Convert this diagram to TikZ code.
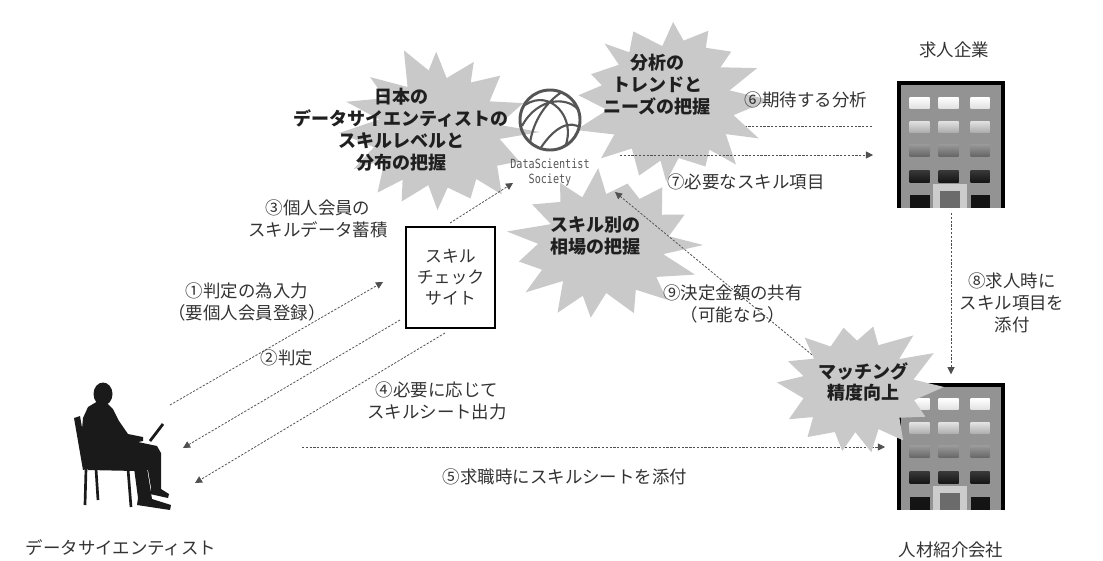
\documentclass[tikz,border=0pt]{standalone}
\usepackage{fontspec}
\usepackage{graphicx}
\setmainfont{Noto Sans CJK JP}
\newfontfamily\logofont{DejaVu Sans Mono}
\usetikzlibrary{arrows.meta}

\definecolor{burstgray}{HTML}{C9C9C9}
\definecolor{ink}{HTML}{333333}
\definecolor{linegray}{HTML}{505050}
\definecolor{logogray}{HTML}{555555}
\definecolor{bldbody}{HTML}{939393}
\definecolor{silhouette}{HTML}{1A1A1A}

% jagged explosion: centre x, centre y, x radius, y radius, spikes, seed
\newcommand\jaggedburst[6]{%
  \pgfmathsetseed{#6}%
  \pgfmathtruncatemacro\burstlast{2*#5-1}%
  \fill[burstgray] ({#1+#3},#2)
    \foreach \k [evaluate=\k as \rr using {mod(\k,2)==0 ? 0.9+0.1*rand : 0.64+0.06*rand},
                 evaluate=\k as \aa using {\k*180/#5+4*rand}] in {1,...,\burstlast}
    { -- ({#1+#3*\rr*cos(\aa)},{#2+#4*\rr*sin(\aa)}) } -- cycle;%
}

\tikzset{
  flow/.style={draw=linegray, line width=0.55pt, dash pattern=on 1.6pt off 1.1pt,
    -{Triangle[length=5pt,width=5pt]}},
  plainflow/.style={draw=linegray, line width=0.55pt, dash pattern=on 1.6pt off 1.1pt},
  lbl/.style={text=ink, align=center, inner sep=0pt,
    font=\fontsize{12.4}{15.6}\selectfont},
  bursttext/.style={text=black!88, align=center, inner sep=0pt,
    font=\bfseries\fontsize{12.8}{15.6}\selectfont},
  bldgbox/.style={minimum width=2.7cm, minimum height=3.175cm, inner sep=0pt},
  % office building: origin at the top-left corner, units in px
  building/.pic={
    \fill[bldbody] (0,0) rectangle (108,127);
    \foreach \a/\b in {13/33,42/62,74/93}{
      \shade[top color=white, bottom color=black!12] (\a,16) rectangle (\b,27);
      \shade[top color=black!12, bottom color=black!32] (\a,40) rectangle (\b,51);
      \shade[top color=black!40, bottom color=black!60] (\a,63) rectangle (\b,75);
      \shade[top color=black!78, bottom color=black!92] (\a,89) rectangle (\b,101);
    }
    \fill[black!92] (13,114) rectangle (33,127);
    \fill[black!92] (74,114) rectangle (93,127);
    \fill[black!20] (36,103) rectangle (70,127);
    \fill[black!58] (43,110) rectangle (63,127);
    \draw[black, line width=2.6pt] (2,127) -- (2,2) -- (106,2) -- (106,127);
  }
}

\begin{document}
\begin{tikzpicture}[x=0.025cm, y=-0.025cm]
  \fill[white] (0,0) rectangle (1103,560);
  \useasboundingbox (0,0) rectangle (1103,560);

  % ---------- buildings ----------
  \node[bldgbox] (corp) at (951,145) {};
  \pic at (corp.north west) {building};
  \node[bldgbox] (agency) at (951,446.5) {};
  \pic at (agency.north west) {building};

  % ---------- data scientist silhouette ----------
  \node[minimum width=2.45cm, minimum height=3.2cm, inner sep=0pt] (person) at (123,446) {};
  \fill[silhouette] (103,394) ellipse [x radius=9.5, y radius=11.5];
  \fill[silhouette] (98,401) -- (88,407) -- (83,418) -- (81,440) -- (83,462) -- (88,470)
    -- (136,471) -- (148,470) -- (151,488) -- (150,494) -- (168,498) -- (169,494)
    -- (161,489) -- (161,453) -- (157,446) -- (138,442) -- (143,441) -- (143,437)
    -- (128,434) -- (119,421) -- (113,409) -- (107,403) -- cycle;
  \fill[silhouette] (134,468) -- (138,498) -- (137,505) -- (170,510) -- (171,505)
    -- (152,499) -- (147,468) -- cycle;
  \fill[silhouette] (74,418) -- (80,416) -- (89,468) -- (83,470) -- cycle;
  \draw[silhouette, line width=1.9pt] (86,469) -- (85,505) (96,469) -- (98,500)
    (128,469) -- (131,507);
  \draw[silhouette, line width=2pt] (150,441) -- (163,424);

  % ---------- skill check site ----------
  \node[draw=black, line width=1.4pt, minimum width=2.225cm, minimum height=2.525cm,
    align=center, text=ink, font=\fontsize{12}{15}\selectfont] (check) at (450.5,277.5)
    {スキル\\チェック\\サイト};

  % ---------- flow endpoints ----------
  \coordinate (p1) at (170,405);  \coordinate (c1) at (383,282);
  \coordinate (c2) at (400,320);  \coordinate (p2) at (183,448);
  \coordinate (c4) at (445,333);  \coordinate (p4) at (195,483);
  \coordinate (c3) at (450,223);  \coordinate (d3) at (513,183);
  \coordinate (p5) at (302,447);  \coordinate (a5) at (885,447);
  \coordinate (d7) at (620,155);  \coordinate (k7) at (873,155);
  \coordinate (k6) at (872,126);  \coordinate (d6) at (660,126);
  \coordinate (a9) at (897,425);  \coordinate (d9) at (615,192);

  % expected analysis runs in behind the trend burst
  \draw[plainflow] (k6) -- (d6);

  % ---------- bursts behind the flows ----------
  \jaggedburst{438}{132}{102}{90}{16}{23}
  \jaggedburst{670}{100}{100}{90}{16}{41}
  \jaggedburst{603}{245}{100}{80}{15}{57}

  % ---------- society logo ----------
  \node[circle, draw=logogray, line width=2.1pt, minimum size=1.5cm, inner sep=0pt]
    (dss) at (550,120) {};
  \begin{scope}
    \clip (550,120) circle [radius=29];
    \draw[logogray, line width=1.5pt]
      (525,105) .. controls (550,88) and (577,118) .. (565,147)
      (522,126) .. controls (538,96) and (570,96) .. (580,112)
      (530,143) .. controls (534,115) and (552,98) .. (562,92)
      (540,149) .. controls (555,126) and (570,120) .. (581,128);
  \end{scope}
  \node[text=logogray, inner sep=0pt, font=\logofont\fontsize{9}{10}\selectfont]
    (dssname) at (550,164) {\scalebox{0.8}[1]{DataScientist}};
  \node[text=logogray, inner sep=0pt, font=\logofont\fontsize{9}{10}\selectfont]
    (dsssub) at (550,180) {\scalebox{0.8}[1]{Society}};

  % ---------- flows ----------
  \draw[flow] (p1) -- (c1);
  \draw[flow] (c2) -- (p2);
  \draw[flow] (c3) -- (d3);
  \draw[flow] (c4) -- (p4);
  \draw[flow] (p5) -- (a5);
  \draw[flow] (d7) -- (k7);
  \draw[flow, shorten <=3pt, shorten >=6pt] (corp.south) -- (agency.north);
  \draw[flow] (a9) -- (d9);

  % ---------- burst in front of the agency ----------
  \jaggedburst{858}{387}{86}{72}{14}{77}

  % ---------- burst texts ----------
  \node[bursttext] (t1) at (401,130) {日本の\\データサイエンティストの\\スキルレベルと\\分布の把握};
  \node[bursttext] (t2) at (657,85) {分析の\\トレンドと\\ニーズの把握};
  \node[bursttext] (t3) at (595,236) {スキル別の\\相場の把握};
  \node[bursttext] (t4) at (863,382) {マッチング\\精度向上};

  % ---------- flow labels ----------
  \node[lbl] (l1) at (247,302) {①判定の為入力\\（要個人会員登録）};
  \node[lbl] (l2) at (287,358) {②判定};
  \node[lbl] (l3) at (318,219) {③個人会員の\\スキルデータ蓄積};
  \node[lbl] (l4) at (437,401) {④必要に応じて\\スキルシート出力};
  \node[lbl] (l5) at (565,477) {⑤求職時にスキルシートを添付};
  \node[lbl] (l6) at (806,100) {⑥期待する分析};
  \node[lbl] (l7) at (746,182) {⑦必要なスキル項目};
  \node[lbl] (l8) at (1012,303) {⑧求人時に\\スキル項目を\\添付};
  \node[lbl] (l9) at (733,304) {⑨決定金額の共有\\（可能なら）};

  % ---------- actor names ----------
  \node[lbl] (nperson) at (121,548) {データサイエンティスト};
  \node[lbl] (ncorp) at (954,50) {求人企業};
  \node[lbl] (nagency) at (951,550) {人材紹介会社};
\end{tikzpicture}
\end{document}
